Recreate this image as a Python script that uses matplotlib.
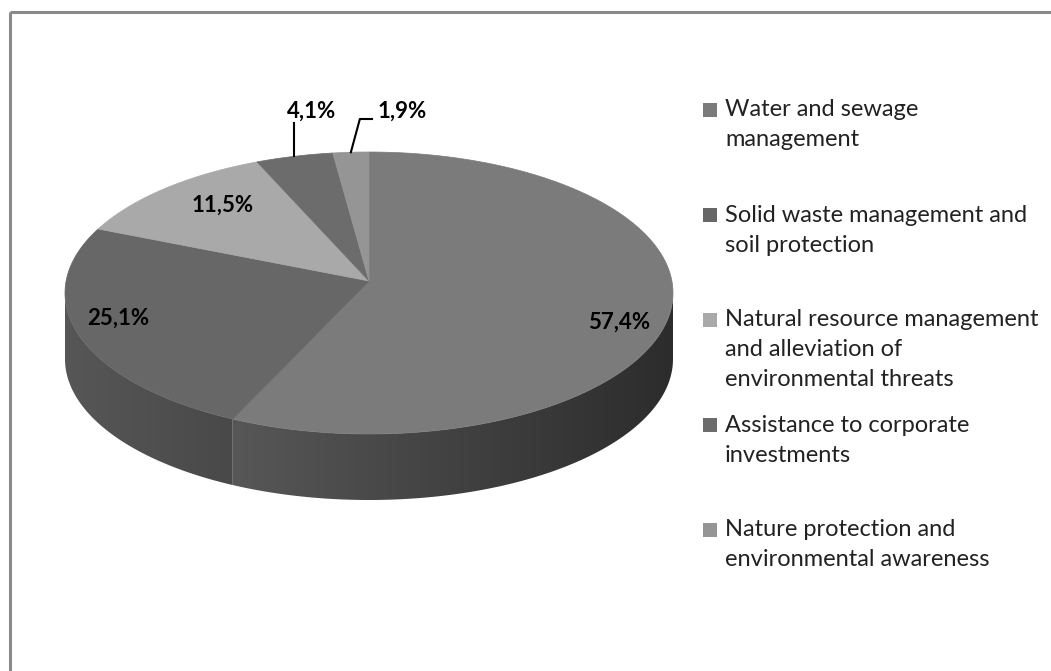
import numpy as np
import matplotlib.pyplot as plt
from matplotlib.colors import to_rgb
from matplotlib.patches import Polygon, Rectangle

# data
categories = [
    'Water and sewage\nmanagement',
    'Solid waste management and\nsoil protection',
    'Natural resource management\nand alleviation of\nenvironmental threats',
    'Assistance to corporate\ninvestments',
    'Nature protection and\nenvironmental awareness',
]
shares = [57.4, 25.1, 11.5, 4.1, 1.9]
labels = ['57,4%', '25,1%', '11,5%', '4,1%', '1,9%']
colors = ['#7b7b7b', '#676767', '#a9a9a9', '#6c6c6c', '#959595']

plt.rcParams['font.family'] = ['Lato', 'DejaVu Sans']

fig = plt.figure(figsize=(10.51, 6.71), dpi=100)
ax = fig.add_axes([0, 0, 1, 1])
ax.set_xlim(0, 1051)
ax.set_ylim(671, 0)
ax.axis('off')

# pie geometry (pixels)
cx, cy = 369, 293
a, b = 304, 141
depth = 66
apex = (cx, cy - 12)


def pt(t):
    return cx + a * np.cos(np.radians(t)), cy - b * np.sin(np.radians(t))


fracs = np.array(shares) / sum(shares)
ends = 90 - 360 * np.cumsum(fracs)
starts = np.concatenate([[90], ends[:-1]])

# side walls: horizontal gradient clipped to the visible front part
left, right = cx - a, cx + a
u = np.linspace(0, 1, 400)
shade = 0.84 - 0.48 * u
for t0, t1, col in zip(starts, ends, colors):
    ts = np.linspace(t1, t0, 600)
    ts = ts[np.sin(np.radians(ts)) <= 0]
    if len(ts) < 2:
        continue
    xs, ys = pt(ts)
    verts = list(zip(xs, ys)) + list(zip(xs[::-1], ys[::-1] + depth))
    poly = Polygon(verts, closed=True, facecolor='none', edgecolor='none')
    ax.add_patch(poly)
    grad = np.clip(np.outer(shade, to_rgb(col)), 0, 1)[None, :, :]
    im = ax.imshow(grad, extent=[left, right, cy + b + depth + 5, cy - 5],
                   aspect='auto', interpolation='bilinear', zorder=1)
    im.set_clip_path(poly)

ax.set_xlim(0, 1051)
ax.set_ylim(671, 0)

# top faces
for t0, t1, col in zip(starts, ends, colors):
    ts = np.linspace(t0, t1, 200)
    xs, ys = pt(ts)
    verts = [apex] + list(zip(xs, ys))
    ax.add_patch(Polygon(verts, closed=True, facecolor=col, edgecolor=col,
                         linewidth=0.5, zorder=2))

# data labels
lab_style = dict(fontsize=16, fontweight='bold', color='black',
                 ha='center', va='center', zorder=3)
ax.text(619, 322, labels[0], **lab_style)
ax.text(118, 318, labels[1], **lab_style)
ax.text(223, 205, labels[2], **lab_style)
ax.text(312, 111, labels[3], **lab_style)
ax.text(402, 111, labels[4], **lab_style)

# leader lines for the small slices
mid3 = (starts[3] + ends[3]) / 2
mx, my = pt(mid3)
ax.plot([mx, mx], [my, 123], color='black', lw=1.5, zorder=3)
mid4 = (starts[4] + ends[4]) / 2
mx, my = pt(mid4)
ax.plot([mx, mx + 9, 372], [my, 119, 119], color='black', lw=1.5, zorder=3)

# legend
leg_y0, leg_step, line_h = 110, 105, 30
for i, (cat, col) in enumerate(zip(categories, colors)):
    y = leg_y0 + i * leg_step
    ax.add_patch(Rectangle((703, y - 7), 14, 14, facecolor=col, edgecolor='none'))
    for j, line in enumerate(cat.split('\n')):
        ax.text(725, y + j * line_h, line, fontsize=17, color='#222222',
                ha='left', va='center')

# chart frame (only top and left edges fall inside the image)
ax.add_patch(Rectangle((9.5, 11.5), 1100, 700, facecolor='none',
                       edgecolor='#8a8a8a', linewidth=2.2))

fig.savefig('out.png', dpi=100)
